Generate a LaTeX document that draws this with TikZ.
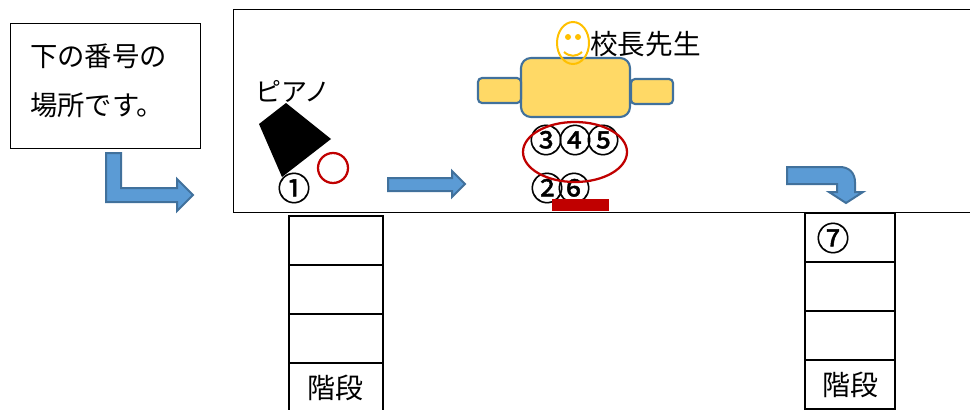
\documentclass[tikz,border=0pt]{standalone}
\usepackage{fontspec}
\setmainfont{Noto Sans CJK JP}
\newfontfamily\numfont[FakeBold=1.5]{Noto Sans CJK JP}
\usetikzlibrary{positioning}
\definecolor{arrowfill}{HTML}{5B9BD5}
\definecolor{bluedge}{HTML}{41719C}
\definecolor{deskfill}{HTML}{FFD966}
\definecolor{smile}{HTML}{FFC000}
\definecolor{darkred}{HTML}{C00000}
\begin{document}
\begin{tikzpicture}[x=0.75pt,y=-0.75pt,
                    label text/.style={inner sep=0pt,font=\fontsize{20.5}{36.75}\selectfont},
                    num node/.style={inner sep=0pt,font=\numfont\fontsize{24.5}{24.5}\selectfont},
                    blue arrow/.style={fill=arrowfill,draw=bluedge,line width=1.5pt,line join=miter},
                    desk/.style={fill=deskfill,draw=bluedge,line width=1.6pt},
                    red ring/.style={draw=darkred,line width=1.7pt},
                    stair cell/.style={draw,line width=1.5pt,minimum height=36.8pt,
                                       inner sep=0pt,outer sep=0pt,font=\fontsize{21}{24}\selectfont}]
    \path[use as bounding box,clip] (0,0) rectangle (970,410);

    % hall and note
    \draw[line width=0.75pt] (233,10) rectangle (980,212);
    \node[draw,line width=0.75pt,anchor=north west,minimum width=143pt,minimum height=93pt,
          inner sep=0pt,outer sep=0pt] (note) at (10,24) {};
    \node[label text,anchor=west,align=left] (notetext) at (30,81) {下の番号の\\場所です。};

    % arrows
    \draw[blue arrow] (106,153) -- (121,153) -- (121,188) -- (177,188) -- (177,179) -- (193,195)
                      -- (177,211) -- (177,202) -- (106,202) -- cycle;
    \draw[blue arrow] (388,178) -- (452,178) -- (452,171) -- (465,184) -- (452,197) -- (452,191)
                      -- (388,191) -- cycle;
    \draw[blue arrow] (787,167) -- (840,167) .. controls (849,167) and (855,173) .. (855,182)
                      -- (855,192) -- (863,192) -- (846,203) -- (829,192) -- (837,192)
                      -- (837,184) -- (787,184) -- cycle;

    % piano
    \fill (286,103) -- (331,139) -- (282,177) -- (259,124) -- cycle;
    \node[label text,font=\fontsize{19.5}{20}\selectfont] (piano) at (293,91) {ピアノ};
    \draw[red ring] (333,168) circle [radius=15];
    \node[num node] (n1) at (294,188) {①};

    % principal
    \draw[desk,rounded corners=7.5pt] (521,58) rectangle (630,117);
    \draw[desk,rounded corners=3pt] (478,78) rectangle (521,103);
    \draw[desk,rounded corners=3pt] (631,79) rectangle (673,104);
    \draw[draw=smile,line width=1.5pt] (573,43) ellipse [x radius=16,y radius=21];
    \fill[smile] (568,37) circle [radius=3];
    \fill[smile] (578,37) circle [radius=3];
    \draw[draw=smile,line width=1.5pt] (564,52) .. controls (570,57) and (576,57) .. (582,52);
    \node[label text,anchor=west,font=\fontsize{20.7}{24}\selectfont] (principal) at (590,44) {校長先生};

    % seats
    \node[num node] (n3) at (546,140) {③};
    \node[num node] (n4) at (575,140) {④};
    \node[num node] (n5) at (603,140) {⑤};
    \node[num node] (n2) at (547,188) {②};
    \node[num node] (n6) at (574,188) {⑥};
    \draw[red ring] (575,152) ellipse [x radius=52,y radius=30];
    \fill[darkred] (552,199) rectangle (609,211);

    % stairs
    \node[stair cell,minimum width=71pt,anchor=north west] (a1) at (288.5,216) {};
    \node[stair cell,minimum width=71pt,below=0pt of a1] (a2) {};
    \node[stair cell,minimum width=71pt,below=0pt of a2] (a3) {};
    \node[stair cell,minimum width=71pt,below=0pt of a3] (a4) {階段\hspace{4.5pt}};
    \node[stair cell,minimum width=67.5pt,anchor=north west] (b1) at (805,213) {};
    \node[stair cell,minimum width=67.5pt,below=0pt of b1] (b2) {};
    \node[stair cell,minimum width=67.5pt,below=0pt of b2] (b3) {};
    \node[stair cell,minimum width=67.5pt,below=0pt of b3] (b4) {階段\hspace{3pt}};
    \node[num node] (n7) at (833,238) {⑦};
\end{tikzpicture}
\end{document}
